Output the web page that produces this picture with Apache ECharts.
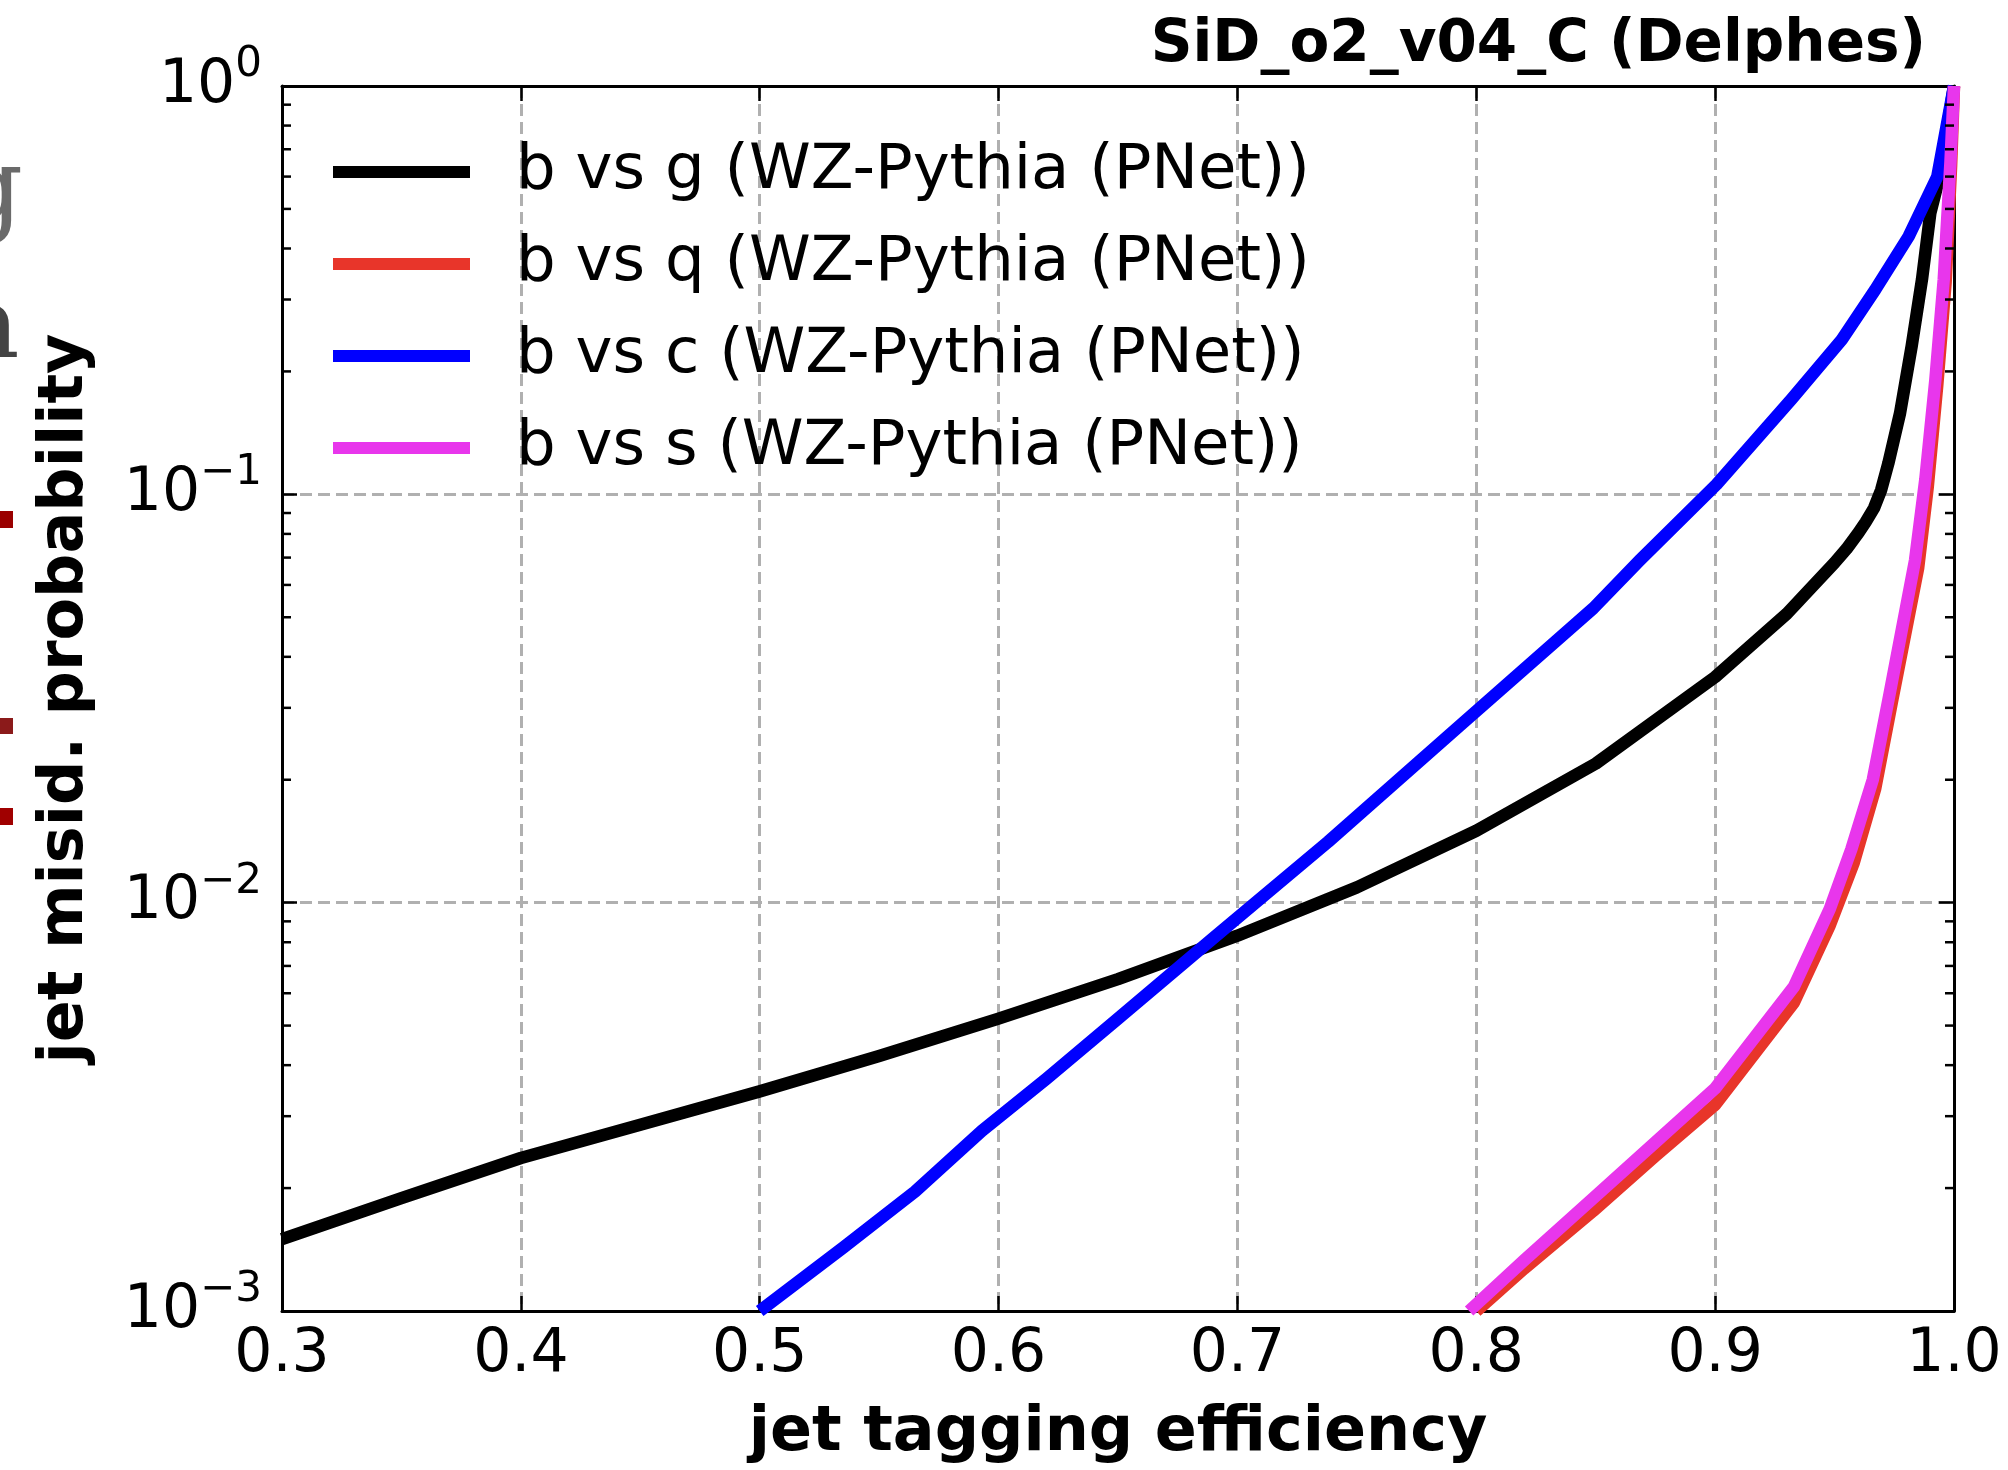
<!DOCTYPE html>
<html>
<head>
<meta charset="utf-8">
<script src="https://cdn.jsdelivr.net/npm/echarts@6/dist/echarts.min.js"></script>
<style>
html,body{margin:0;padding:0;background:#fff;}
#chart{width:2008px;height:1470px;}
</style>
</head>
<body>
<div id="chart"></div>
<script>
// ---- data ----
const seriesNames = [
  'b vs g (WZ-Pythia (PNet))',
  'b vs q (WZ-Pythia (PNet))',
  'b vs c (WZ-Pythia (PNet))',
  'b vs s (WZ-Pythia (PNet))'
];
const seriesColors = ['#000000', '#e8352a', '#0000ff', '#e836ec'];

const effG = [0.30, 0.35, 0.40, 0.45, 0.50, 0.55, 0.60, 0.65, 0.70, 0.75, 0.80, 0.85, 0.90, 0.93, 0.95, 0.955, 0.96, 0.963, 0.9665, 0.9695, 0.9725, 0.9774, 0.9823, 0.9866, 0.9901, 0.9936, 1.0];
const misG = [0.00150, 0.00189, 0.00237, 0.00286, 0.00345, 0.00421, 0.00520, 0.0065, 0.0083, 0.0109, 0.0150, 0.0219, 0.0357, 0.0510, 0.0680, 0.0735, 0.0805, 0.0855, 0.0925, 0.1025, 0.119, 0.158, 0.231, 0.336, 0.489, 0.589, 1.0];

const effQ = [0.80, 0.82, 0.849, 0.875, 0.90, 0.933, 0.948, 0.958, 0.967, 0.974, 0.985, 0.989, 0.993, 0.9965, 0.9988, 1.0];
const misQ = [0.00100, 0.00127, 0.00176, 0.0024, 0.0032, 0.0057, 0.0088, 0.0125, 0.0190, 0.0310, 0.066, 0.104, 0.185, 0.33, 0.64, 1.0];

const effC = [0.50, 0.535, 0.565, 0.593, 0.62, 0.65, 0.69, 0.738, 0.793, 0.849, 0.8685, 0.9006, 0.932, 0.953, 0.967, 0.981, 0.993, 1.0];
const misC = [0.0010, 0.00143, 0.00196, 0.00276, 0.0037, 0.0052, 0.0082, 0.0141, 0.0271, 0.0526, 0.0690, 0.1058, 0.171, 0.239, 0.317, 0.428, 0.600, 1.0];

const effS = [0.797, 0.82, 0.849, 0.875, 0.90, 0.933, 0.948, 0.957, 0.966, 0.973, 0.9837, 0.988, 0.9922, 0.9957, 0.9985, 1.0];
const misS = [0.00100, 0.00133, 0.00189, 0.00259, 0.00351, 0.00623, 0.00966, 0.0135, 0.0200, 0.0324, 0.069, 0.109, 0.191, 0.336, 0.648, 1.0];

const xTickLabels = ['0.3', '0.4', '0.5', '0.6', '0.7', '0.8', '0.9', '1.0'];
const yTickValues = [1, 0.1, 0.01, 0.001];
const yTickExponents = ['0', '\u22121', '\u22122', '\u22123'];
const yMinorTicks = [0.002,0.003,0.004,0.005,0.006,0.007,0.008,0.009,
                     0.02,0.03,0.04,0.05,0.06,0.07,0.08,0.09,
                     0.2,0.3,0.4,0.5,0.6,0.7,0.8,0.9];

const titleText = 'SiD_o2_v04_C (Delphes)';
const xName = 'jet tagging efficiency';
const yName = 'jet misid. probability';

// ---- build ----
const FONT = 'DejaVu Sans';
function zip(xs, ys){ return xs.map((x,i)=>[x, ys[i]]); }
const curves = [zip(effG, misG), zip(effQ, misQ), zip(effC, misC), zip(effS, misS)];

const chart = echarts.init(document.getElementById('chart'), null, {renderer:'canvas'});

const gridLine = {show:true, lineStyle:{color:'#b0b0b0', width:3, type:[12,6]}};
const axLine = {show:true, onZero:false, lineStyle:{color:'#000', width:3}};

const lineSeries = curves.map((d,i)=>({
  name: seriesNames[i],
  type: 'line',
  data: d,
  showSymbol: false,
  symbol: 'none',
  smooth: false,
  color: seriesColors[i],
  lineStyle: {color: seriesColors[i], width: 12.5, cap:'butt', join:'round'},
  itemStyle: {color: seriesColors[i]},
  z: 3 + i,
  clip: true,
  animation: false
}));

const minorSeries = {
  type: 'custom',
  name: 'minor',
  silent: true,
  animation: false,
  clip: false,
  z: 10,
  data: yMinorTicks.map(v=>[0.3, v]),
  renderItem: function(params, api){
    const v = api.value(1);
    const l = api.coord([0.3, v]);
    const r = api.coord([1.0, v]);
    return {type:'group', children:[
      {type:'line', shape:{x1:l[0], y1:l[1], x2:l[0]+9, y2:l[1]}, style:{stroke:'#000', lineWidth:2.5}},
      {type:'line', shape:{x1:r[0]-9, y1:r[1], x2:r[0], y2:r[1]}, style:{stroke:'#000', lineWidth:2.5}}
    ]};
  }
};

const option = {
  backgroundColor: '#ffffff',
  animation: false,
  textStyle: {fontFamily: FONT},
  title: {
    text: titleText,
    right: 77, top: 12,
    textStyle: {fontFamily: FONT, fontWeight:'bold', fontSize:58, color:'#000'}
  },
  legend: {
    orient: 'vertical',
    left: 333, top: 137,
    padding: 0,
    itemGap: 22,
    itemWidth: 137, itemHeight: 12,
    data: seriesNames.map((n,i)=>({name:n, icon:'rect', itemStyle:{color:seriesColors[i]}})),
    textStyle: {fontFamily: FONT, fontSize: 62.5, color:'#000', lineHeight:70, padding:[0,0,0,41]},
    selectedMode: false
  },
  grid: {left: 282, right: 54, top: 86, bottom: 157, containLabel:false},
  xAxis: [{
    type: 'value', min: 0.3, max: 1.0, interval: 0.1,
    position: 'bottom',
    name: xName, nameLocation: 'middle', nameGap: 92,
    nameTextStyle: {fontFamily: FONT, fontWeight:'bold', fontSize:62, color:'#000'},
    axisLine: axLine,
    axisTick: {show:true, inside:true, length:15, lineStyle:{color:'#000', width:2.5}},
    axisLabel: {show:true, margin:14, fontFamily:FONT, fontSize:60, color:'#000',
      formatter: function(v){ const i = Math.round((v-0.3)/0.1); return xTickLabels[i] || ''; }},
    splitLine: gridLine
  },{
    type: 'value', min: 0.3, max: 1.0, interval: 0.1,
    position: 'top',
    axisLine: axLine,
    axisTick: {show:true, inside:true, length:15, lineStyle:{color:'#000', width:2.5}},
    axisLabel: {show:false},
    splitLine: {show:false}
  }],
  yAxis: [{
    type: 'log', logBase: 10, min: 0.001, max: 1,
    position: 'left',
    name: yName, nameLocation: 'middle', nameGap: 185, nameRotate: 90,
    nameTextStyle: {fontFamily: FONT, fontWeight:'bold', fontSize:62, color:'#000'},
    axisLine: axLine,
    axisTick: {show:true, inside:true, length:15, lineStyle:{color:'#000', width:2.5}},
    axisLabel: {show:true, margin:20, color:'#000',
      formatter: function(v){
        let k = -1;
        yTickValues.forEach((t,i)=>{ if (Math.abs(Math.log10(v)-Math.log10(t))<1e-6) k = i; });
        if (k<0) return '';
        return '{b|10}{s|' + yTickExponents[k] + '}';
      },
      rich: {
        b: {fontFamily:FONT, fontSize:60, color:'#000', lineHeight:60, verticalAlign:'bottom'},
        s: {fontFamily:FONT, fontSize:42, color:'#000', lineHeight:42, verticalAlign:'bottom', padding:[0,0,30,0]}
      }
    },
    splitLine: gridLine,
    minorTick: {show:false}
  },{
    type: 'log', logBase: 10, min: 0.001, max: 1,
    position: 'right',
    axisLine: axLine,
    axisTick: {show:true, inside:true, length:15, lineStyle:{color:'#000', width:2.5}},
    axisLabel: {show:false},
    splitLine: {show:false}
  }],
  graphic: [
    {type:'text', left: -44, top: 142, silent:true,
     style:{text:'g', font:'normal 105px "DejaVu Serif"', fill:'#6a6a6a'}},
    {type:'text', left: -40, top: 281, silent:true,
     style:{text:'a', font:'normal 100px "DejaVu Serif"', fill:'#444444'}},
    {type:'rect', left: 0, top: 511, silent:true, shape:{width:13, height:17}, style:{fill:'#9a0000'}},
    {type:'rect', left: 0, top: 718, silent:true, shape:{width:13, height:16}, style:{fill:'#8b1a1a'}},
    {type:'rect', left: 0, top: 808, silent:true, shape:{width:13, height:17}, style:{fill:'#a00000'}}
  ],
  series: lineSeries.concat([minorSeries])
};
chart.setOption(option);
</script>
</body>
</html>
